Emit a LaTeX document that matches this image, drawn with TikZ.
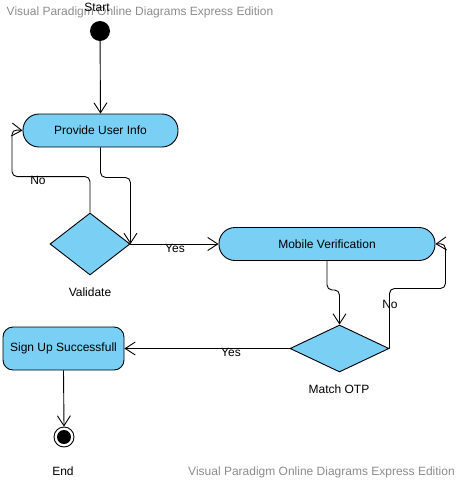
\documentclass[tikz,border=0pt]{standalone}
\usepackage{fontspec}
\setmainfont{Liberation Sans}
\usepackage{xcolor}
\usetikzlibrary{arrows.meta,shapes.geometric}
\definecolor{actblue}{RGB}{122,207,245}
\definecolor{wmgray}{RGB}{140,140,140}

\begin{document}
\begin{tikzpicture}[
        x=1pt, y=-1pt,
        font=\fontsize{12}{14}\selectfont,
        act/.style={
            draw,
            line width=0.9pt,
            fill=actblue,
            rounded corners=16pt,
            inner sep=0pt,
            minimum height=33pt
        },
        choice/.style={
            diamond,
            draw,
            line width=0.9pt,
            fill=actblue,
            inner sep=0pt
        },
        flow/.style={-{Straight Barb[length=10pt,width=13pt]}, line width=0.9pt, rounded corners=5pt},
        edgelbl/.style={font=\fontsize{12}{14}\selectfont},
        water/.style={text=wmgray, font=\fontsize{12}{14}\selectfont}
    ]
        \useasboundingbox (0,0) rectangle (460,483);
        \node[water] (wm1) at (140,12) {Visual Paradigm Online Diagrams Express Edition};
        \node[water] (wm2) at (321.5,472) {Visual Paradigm Online Diagrams Express Edition};

        \node[circle, fill=black, minimum size=20pt, inner sep=0pt] (start) at (100,31) {};
        \node (startlbl) at (97,7) {Start};

        \node[act, minimum width=155pt] (info) at (100.5,130.5) {Provide User Info};
        \node[choice, minimum width=80pt, minimum height=62pt] (valid) at (90,244) {};
        \node (validlbl) at (90,292) {Validate};
        \node[act, minimum width=216pt] (mobile) at (327,244) {Mobile Verification};
        \node[choice, minimum width=99pt, minimum height=47pt] (otp) at (339.5,348.5) {};
        \node (otplbl) at (339,389) {Match OTP};
        \node[act, rounded corners=10pt, minimum width=121pt, minimum height=43pt] (done) at (63.5,348.5) {Sign Up Successfull};

        \node[circle, draw, line width=0.9pt, minimum size=20pt, inner sep=0pt] (finish) at (64,437) {};
        \node[circle, fill=black, minimum size=14pt, inner sep=0pt] (finishdot) at (finish) {};
        \node (finishlbl) at (63,471) {End};

        \draw[flow] (start) -- (info.north);
        \draw[flow] (info.south) -- ++(0,30) -| (valid.east);
        \draw[flow] (valid.north) -- ++(0,-36) -| ++(-78,-47) -- (info.west);
        \node[edgelbl] (nolbl1) at (38,180) {No};
        \draw[flow] (valid.east) -- (mobile.west);
        \node[edgelbl] (yeslbl1) at (175,248) {Yes};
        \draw[flow] (mobile.south) -- ++(0,29) -| (otp.north);
        \draw[flow] (otp.east) -- ++(0,-60) -| ++(56,-45) -- (mobile.east);
        \node[edgelbl] (nolbl2) at (390,304) {No};
        \draw[flow] (otp.west) -- (done.east);
        \node[edgelbl] (yeslbl2) at (231,352) {Yes};
        \draw[flow] (done.south) -- (finish.north);
    \end{tikzpicture}
\end{document}
